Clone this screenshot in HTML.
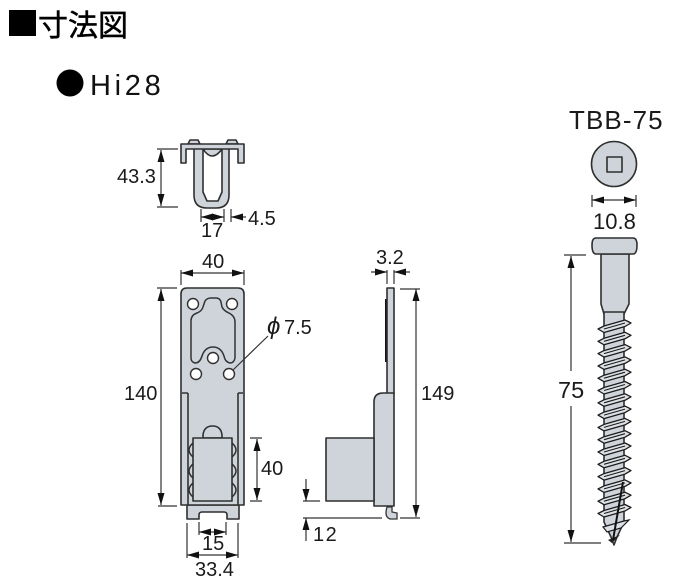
<!DOCTYPE html>
<html><head><meta charset="utf-8"><style>
html,body{margin:0;padding:0;background:#fff}
svg{display:block}
text{font-family:"Liberation Sans","Noto Sans CJK JP",sans-serif;fill:#1a1a1a;font-size:20px}
.o{fill:#cfd4db;stroke:#2f2f2f;stroke-width:1.6;stroke-linejoin:round}
.w{fill:#fff;stroke:#2f2f2f;stroke-width:1.4}
.d{fill:none;stroke:#333;stroke-width:1.2}
.a{fill:#111;stroke:none}
</style></head><body>
<svg width="700" height="580" viewBox="0 0 700 580" xmlns="http://www.w3.org/2000/svg">
<defs>
<path id="au" class="a" d="M0 0L-3.5 12L3.5 12Z"/>
<path id="ad" class="a" d="M0 0L-3.5 -12L3.5 -12Z"/>
<path id="al" class="a" d="M0 0L12 -3.5L12 3.5Z"/>
<path id="ar" class="a" d="M0 0L-12 -3.5L-12 3.5Z"/>
<g id="th">
<path d="M598 6L604 3L625 -3L631 0L625 3.5L604 9.5Z" fill="#dde1e6" stroke="#1c1c1c" stroke-width="1.3" stroke-linejoin="round"/>
<path d="M604 6L625 0" stroke="#1c1c1c" stroke-width="1.1" fill="none"/>
</g>
</defs>

<rect x="9" y="10" width="27" height="26" fill="#000"/>
<text x="38" y="36" style="font-size:30px;fill:#000;stroke:#000;stroke-width:.5">寸法図</text>
<circle cx="70" cy="83" r="13.5" fill="#000"/>
<text x="90" y="95" style="font-size:29px;letter-spacing:3.7px;fill:#111">Hi28</text>

<!-- top view -->
<path class="o" d="M188 144L190 140L198 140L200 144ZM226 144L228 140L236 140L238 144Z"/>
<path class="o" fill-rule="evenodd" d="M194 148L229 148L229 195Q229 208 216 208L207 208Q194 208 194 195ZM203 148L203 192L207 201L218 201L222 192L222 148Z"/>
<path class="o" d="M203 149Q212 163 222 149Z"/>
<path class="o" d="M181 144L244 144L244 163L238 163L238 149L186 149L186 163L181 163Z"/>
<path class="d" d="M157 149H178M157 207H178M161 150V206M201 209V222M224 209V222M231 209V222M201 217H224M231 217H246"/>
<use href="#au" x="161" y="150"/><use href="#ad" x="161" y="206"/>
<use href="#al" x="201" y="217"/><use href="#ar" x="224" y="217"/><use href="#al" x="231" y="217"/>
<text x="117" y="183">43.3</text>
<text x="248" y="225">4.5</text>
<text x="201" y="237">17</text>

<!-- front view -->
<path class="o" d="M187 505L239 505L239 519L227 519L227 515Q227 512 224 512L202 512Q199 512 199 515L199 519L187 519Z"/>
<path class="o" d="M181 505L181 294Q181 288 187 288L238 288Q244 288 244 294L244 505Z"/>
<path class="d" style="stroke-width:1.6" d="M188 393V505M182 393H188M238 393V505M238 393H243"/>
<path d="M205 301Q207 298 211 298L216 298Q220 298 221 302L222 307Q224 311 229 313Q235 316 235 322L235 358Q234 363 230 363Q225 362 224 356Q221 347 213 347Q205 347 202 356Q200 363 195 363Q191 362 191 358L191 321Q191 315 197 313Q202 311 203 307Z" fill="none" stroke="#333" stroke-width="1.5"/>
<circle class="w" cx="193" cy="304" r="5.5"/><circle class="w" cx="232" cy="304" r="5.5"/>
<circle class="w" cx="196" cy="374" r="5.5"/><circle class="w" cx="229" cy="374" r="5.5"/>
<circle class="w" cx="213" cy="358" r="5.5"/>
<path class="o" d="M203 438L203 435Q204 426 212.5 426Q221 426 222 435L222 438Z"/>
<path fill="none" stroke="#2f2f2f" stroke-width="1.5" d="M193 443Q185 450 193 457M193 464Q185 471 193 478M193 483Q185 490 193 497M232 443Q240 450 232 457M232 464Q240 471 232 478M232 483Q240 490 232 497"/>
<rect class="o" x="193" y="438" width="39" height="63"/>
<path class="d" d="M181 270V285M244 270V285M181 273H244M157 288H177M161 289V505M158 506H177M250 438H262M250 501H262M257 439V500M199 522V535M226 522V535M199 532H226M187 523V558M238 523V558M187 555H238M268 336L233 370"/>
<use href="#al" x="181" y="273"/><use href="#ar" x="244" y="273"/>
<use href="#au" x="161" y="289"/><use href="#ad" x="161" y="505"/>
<use href="#au" x="257" y="439"/><use href="#ad" x="257" y="500"/>
<use href="#al" x="199" y="532"/><use href="#ar" x="226" y="532"/>
<use href="#al" x="187" y="555"/><use href="#ar" x="238" y="555"/>
<text x="202" y="268">40</text>
<text x="124" y="400">140</text>
<text x="267" y="334" style="font-style:italic;font-size:24px">ϕ</text>
<text x="284" y="334">7.5</text>
<text x="261" y="475">40</text>
<text x="202" y="550">15</text>
<text x="195" y="576">33.4</text>

<!-- side view -->
<rect x="385" y="299" width="2.5" height="63" fill="#111"/>
<path class="o" d="M387 288H394V394H387Z"/>
<path class="o" d="M374 506L374 402Q374 393 383 393L394 393L394 506Z"/>
<rect class="o" x="326" y="438" width="48" height="63"/>
<path d="M387 507Q384 517 390 519L397 519L397 513L392 512L392 507Z" fill="#cfd4db" stroke="#333" stroke-width="1.3"/>
<path class="d" d="M387 270V284M394 270V284M371 272H387M394 272H410M400 289H420M416 289V517M400 518H420M303 501H320M303 518H382M306 479V501M306 518V541"/>
<use href="#ar" x="387" y="272"/><use href="#al" x="394" y="272"/>
<use href="#au" x="416" y="289"/><use href="#ad" x="416" y="517"/>
<use href="#ad" x="306" y="501"/><use href="#au" x="306" y="518"/>
<text x="376" y="264">3.2</text>
<text x="421" y="400">149</text>
<text x="313" y="541" style="letter-spacing:1.5px">12</text>

<!-- screw -->
<text x="569" y="129" style="font-size:26px;letter-spacing:1.1px">TBB-75</text>
<circle class="o" cx="614" cy="164" r="22.5"/>
<rect class="o" x="607" y="157" width="15" height="15"/>
<path class="d" d="M592 195V207M636 195V207M592 200H636"/>
<use href="#al" x="592" y="200"/><use href="#ar" x="636" y="200"/>
<text x="593" y="229" style="font-size:22px">10.8</text>
<path class="o" d="M601 254L629 254L629 304L624 314L604 314L601 304Z"/>
<path class="o" d="M596 238L633 238Q637 238 637 245Q637 254 633 254L596 254Q592 254 592 245Q592 238 596 238Z"/>
<path class="o" d="M604 312L624 312L624 522L617 537L614 545L611 537L604 522Z"/>
<use href="#th" y="323"/><use href="#th" y="335.3"/><use href="#th" y="347.6"/><use href="#th" y="359.9"/><use href="#th" y="372.2"/><use href="#th" y="384.5"/><use href="#th" y="396.8"/><use href="#th" y="409.1"/><use href="#th" y="421.4"/><use href="#th" y="433.7"/><use href="#th" y="446"/><use href="#th" y="458.3"/><use href="#th" y="470.6"/><use href="#th" y="482.9"/><use href="#th" y="495.2"/><use href="#th" y="507.5"/>
<path d="M603 527L624 521L629 520L621 528L607 532Z" fill="#dde1e6" stroke="#1c1c1c" stroke-width="1.2"/>
<path d="M608 540L620 535L612 543Z" fill="#222"/>
<path d="M623 482L613 540" stroke="#111" stroke-width="2" fill="none"/>
<path class="d" d="M564 255H586M571 256V371M571 406V542M564 543H601"/>
<use href="#au" x="571" y="256"/><use href="#ad" x="571" y="542"/>
<text x="558" y="398" style="font-size:23.5px">75</text>
</svg>
</body></html>
